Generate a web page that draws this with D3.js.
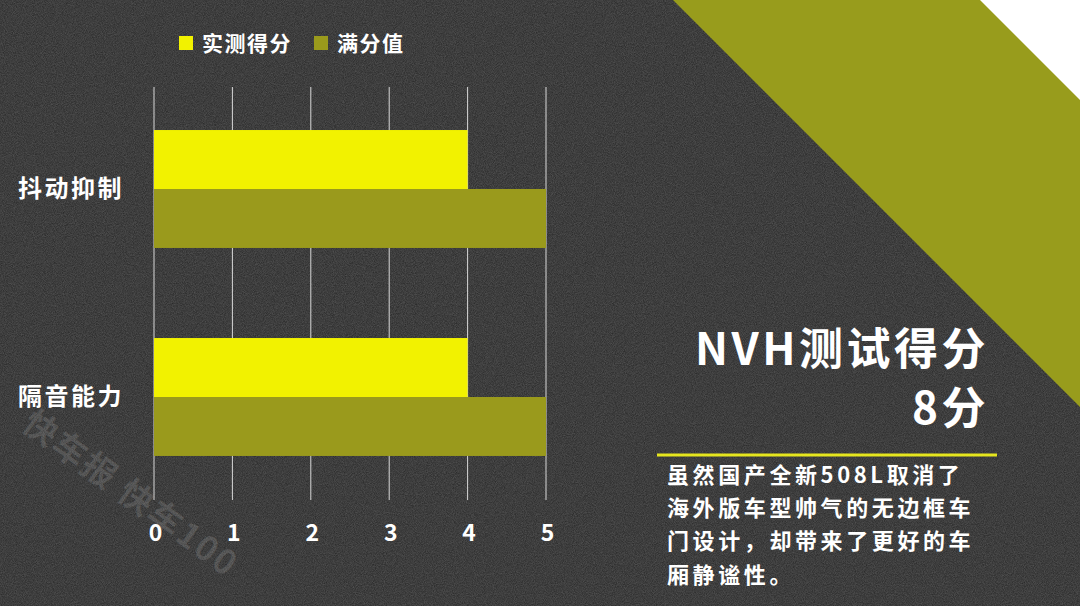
<!DOCTYPE html>
<html><head><meta charset="utf-8">
<script src="https://cdn.jsdelivr.net/npm/d3@7"></script>
<style>html,body{margin:0;padding:0;background:#2a2a2a;}svg{display:block;}</style>
</head><body>
<svg id="c" width="1080" height="606"></svg>
<script>
const categories = ["抖动抑制", "隔音能力"];
const measured = [4, 4];
const fullScore = [5, 5];
const tickValues = [0, 1, 2, 3, 4, 5];
const seriesNames = ["实测得分", "满分值"];
const title1 = "NVH测试得分";
const title2 = "8分";
const bodyLines = ["虽然国产全新508L取消了", "海外版车型帅气的无边框车", "门设计，却带来了更好的车", "厢静谧性。"];

const W = 1080, H = 606;
const FONT = "'Noto Sans CJK SC','Noto Sans',sans-serif";
const svg = d3.select("#c");
const defs = svg.append("defs");
const f = defs.append("filter").attr("id","noise").attr("x",0).attr("y",0).attr("width","100%").attr("height","100%");
f.append("feTurbulence").attr("type","fractalNoise").attr("baseFrequency",1.1).attr("numOctaves",2).attr("seed",3).attr("result","t");
f.append("feColorMatrix").attr("type","matrix").attr("values","0 0 0 0 1  0 0 0 0 1  0 0 0 0 1  0 0 0 0.22 0");

svg.append("rect").attr("width",W).attr("height",H).attr("fill","#262626");
svg.append("rect").attr("width",W).attr("height",H).attr("filter","url(#noise)");

// decorative bands
svg.append("polygon").attr("points",[[673,0],[1080,0],[1080,407]].join(" ")).attr("fill","#989c1c");
svg.append("polygon").attr("points",[[980,0],[1080,0],[1080,100]].join(" ")).attr("fill","#ffffff");

// chart
const x = d3.scaleLinear().domain([0,5]).range([154,546]);
const y = d3.scaleBand().domain(categories).range([85,501]).paddingInner(0.433).paddingOuter(0.2165);
const sub = d3.scaleBand().domain(seriesNames).range([0,y.bandwidth()]);
const colors = {"实测得分":"#f2f200","满分值":"#9a9a1c"};

const g = svg.append("g");
g.selectAll("line.grid").data(tickValues).join("line")
  .attr("x1",d=>x(d)).attr("x2",d=>x(d)).attr("y1",87).attr("y2",500)
  .attr("stroke","#d8d8d8").attr("stroke-width",1);

const rows = categories.map((c,i)=>[{c,s:seriesNames[0],v:measured[i]},{c,s:seriesNames[1],v:fullScore[i]}]).flat();
g.selectAll("rect.bar").data(rows).join("rect")
  .attr("x",x(0)).attr("y",d=>y(d.c)+sub(d.s))
  .attr("width",d=>x(d.v)-x(0)).attr("height",sub.bandwidth())
  .attr("fill",d=>colors[d.s]);

const xAxis = g.append("g").attr("transform","translate(0,533)")
  .call(d3.axisBottom(x).tickValues(tickValues).tickFormat(d3.format("d")).tickSize(0).tickPadding(0));
xAxis.select(".domain").remove();
xAxis.selectAll("text").attr("fill","#ffffff").attr("font-size",23).attr("font-weight","bold")
  .attr("font-family",FONT).attr("dy","0.36em").attr("dx","1");

const yAxis = g.append("g").attr("transform","translate(124,0)")
  .call(d3.axisLeft(y).tickSize(0).tickPadding(0));
yAxis.select(".domain").remove();
yAxis.selectAll("text").attr("fill","#ffffff").attr("font-size",24).attr("font-weight","bold")
  .attr("letter-spacing","2.5px").attr("font-family",FONT);

// legend
const legend = svg.append("g");
const legX = [179, 314];
seriesNames.forEach((s,i)=>{
  legend.append("rect").attr("x",legX[i]).attr("y",36).attr("width",14).attr("height",14).attr("fill",colors[s]);
  legend.append("text").attr("x",legX[i]+23).attr("y",43).attr("dy","0.36em")
    .attr("fill","#fff").attr("font-size",21).attr("letter-spacing","1.5px").attr("font-weight","bold").attr("font-family",FONT).text(s);
});

// watermark
svg.append("text").attr("transform","translate(20,428) rotate(36)")
  .attr("fill","#ffffff").attr("fill-opacity",0.12).attr("font-size",34).attr("font-weight","bold")
  .attr("letter-spacing","2px").attr("font-family",FONT).text("快车报 快车100");

// right text
const rt = svg.append("g").attr("font-family",FONT).attr("font-weight","bold").attr("fill","#fff");
rt.append("text").attr("x",989).attr("y",365).attr("text-anchor","end").attr("font-size",44).attr("letter-spacing","3.5px").text(title1);
rt.append("text").attr("x",989).attr("y",424).attr("text-anchor","end").attr("font-size",44).attr("letter-spacing","3.5px").text(title2);
svg.append("line").attr("x1",657).attr("x2",997).attr("y1",455).attr("y2",455).attr("stroke","#e6e61e").attr("stroke-width",3);
bodyLines.forEach((t,i)=>{
  rt.append("text").attr("x",667).attr("y",475+i*33.2).attr("dy","0.36em").attr("font-size",22)
    .attr("letter-spacing","3.6px").text(t);
});
</script>
</body></html>
